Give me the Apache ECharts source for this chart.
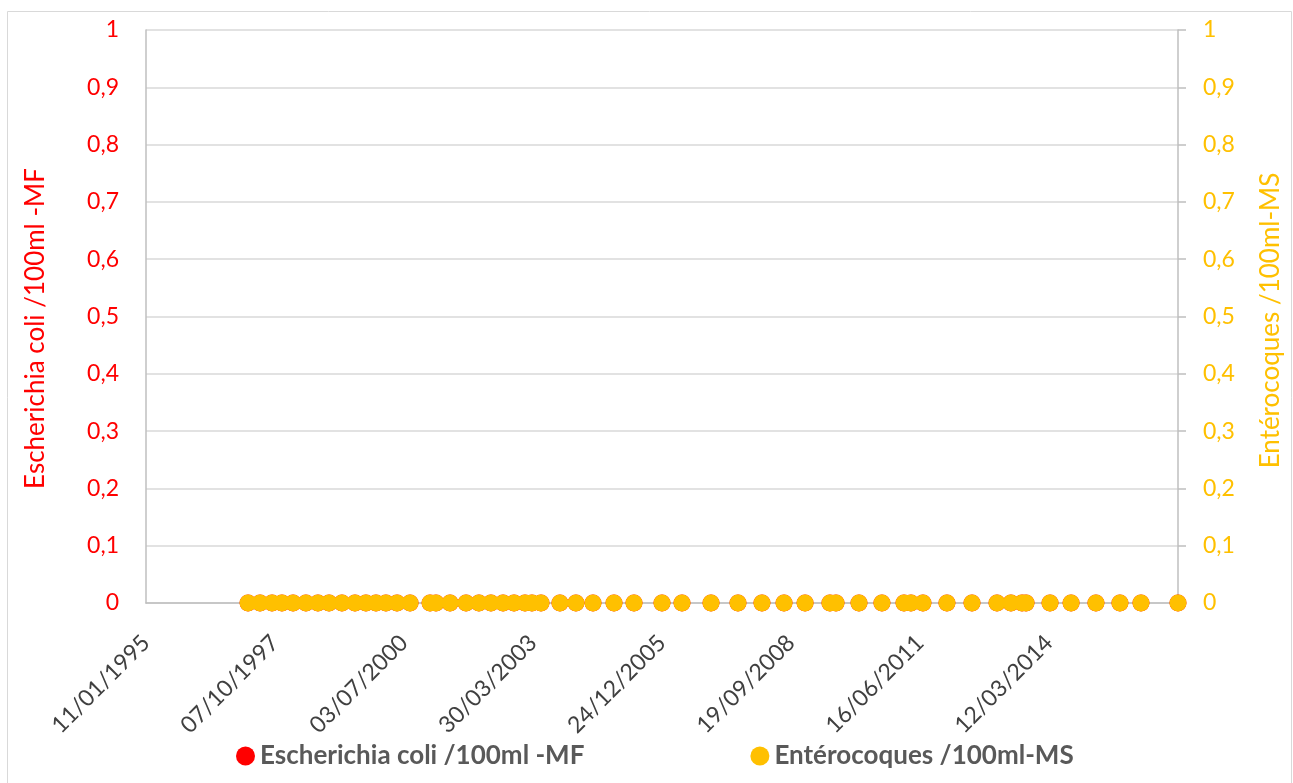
<!DOCTYPE html>
<html>
<head>
<meta charset="utf-8">
<script src="https://cdn.jsdelivr.net/npm/echarts@6/dist/echarts.min.js"></script>
<style>
  html, body { margin: 0; padding: 0; background: #ffffff; }
  #chart { width: 1293px; height: 783px; }
</style>
</head>
<body>
<div id="chart"></div>
<script>
// Sampling dates (ISO) of the bathing-water analyses
const samplingDates = [
  '1997-03-12', '1997-06-13', '1997-09-14', '1997-11-30', '1998-02-24', '1998-06-04',
  '1998-09-05', '1998-11-30', '1999-03-10', '1999-06-19', '1999-09-12', '1999-11-29',
  '2000-02-14', '2000-05-10', '2000-08-19', '2001-01-21', '2001-03-08', '2001-06-25',
  '2001-10-27', '2002-02-04', '2002-05-08', '2002-08-10', '2002-11-03', '2003-01-27',
  '2003-03-22', '2003-05-31', '2003-10-25', '2004-02-26', '2004-07-07', '2004-12-17',
  '2005-05-21', '2005-12-24', '2006-05-28', '2007-01-08', '2007-08-05', '2008-02-07',
  '2008-07-27', '2009-01-06', '2009-07-18', '2009-09-03', '2010-02-28', '2010-08-25',
  '2011-02-12', '2011-04-07', '2011-07-09', '2012-01-11', '2012-07-23', '2013-02-02',
  '2013-05-21', '2013-08-15', '2013-09-15', '2014-03-20', '2014-08-30', '2015-03-11',
  '2015-09-13', '2016-02-23', '2016-12-06'
];

// Escherichia coli counts /100ml (MF)
const ecoliValues = [
  0, 0, 0, 0, 0, 0, 0, 0, 0, 0, 0, 0, 0, 0, 0, 0, 0, 0, 0, 0,
  0, 0, 0, 0, 0, 0, 0, 0, 0, 0, 0, 0, 0, 0, 0, 0, 0, 0, 0, 0,
  0, 0, 0, 0, 0, 0, 0, 0, 0, 0, 0, 0, 0, 0, 0, 0, 0
];

// Enterococci counts /100ml (MS)
const enteroValues = [
  0, 0, 0, 0, 0, 0, 0, 0, 0, 0, 0, 0, 0, 0, 0, 0, 0, 0, 0, 0,
  0, 0, 0, 0, 0, 0, 0, 0, 0, 0, 0, 0, 0, 0, 0, 0, 0, 0, 0, 0,
  0, 0, 0, 0, 0, 0, 0, 0, 0, 0, 0, 0, 0, 0, 0, 0, 0
];

const seriesNames = ['Escherichia coli /100ml -MF', 'Entérocoques /100ml-MS'];
const axisStartDate = '1995-01-11';   // first date tick
const axisEndDate = '2016-12-06';     // end of the date axis
const tickStepDays = 1000;            // date tick spacing
const valueTicks = [0, 0.1, 0.2, 0.3, 0.4, 0.5, 0.6, 0.7, 0.8, 0.9, 1];

const DAY = 86400000;
const t0 = Date.parse(axisStartDate + 'T00:00:00Z');
const toDays = d => Math.round((Date.parse(d + 'T00:00:00Z') - t0) / DAY);
const fmtDate = days => {
  const dt = new Date(t0 + days * DAY);
  const p = n => String(n).padStart(2, '0');
  return p(dt.getUTCDate()) + '/' + p(dt.getUTCMonth() + 1) + '/' + dt.getUTCFullYear();
};
const fmtValue = v => String(Number(v.toFixed(1))).replace('.', ',');

const FONT = 'Lato, "Open Sans", sans-serif';
const RED = '#FF0000';
const GOLD = '#FFC000';

const chart = echarts.init(document.getElementById('chart'), null, { renderer: 'canvas' });

chart.setOption({
  animation: false,
  backgroundColor: '#ffffff',
  textStyle: { fontFamily: FONT },
  graphic: [{
    type: 'rect',
    shape: { x: 7.5, y: 11.5, width: 1284, height: 790 },
    style: { fill: 'none', stroke: '#D9D9D9', lineWidth: 1 },
    silent: true,
    z: -10
  }],
  grid: {
    left: 146, right: 115, top: 30, bottom: 180,
    containLabel: false,
    outerBoundsMode: 'none'
  },
  legend: {
    top: 738,
    left: 231,
    icon: 'circle',
    itemWidth: 19,
    itemHeight: 19,
    itemGap: 166,
    data: seriesNames,
    textStyle: {
      fontFamily: FONT,
      fontSize: 26,
      fontWeight: 'bold',
      color: '#595959'
    }
  },
  xAxis: {
    type: 'value',
    min: 0,
    max: toDays(axisEndDate),
    interval: tickStepDays,
    splitLine: { show: false },
    axisLine: { show: true, onZero: false, lineStyle: { color: '#BFBFBF', width: 1.5 } },
    axisTick: { show: false },
    axisLabel: {
      rotate: 45,
      margin: 36,
      showMaxLabel: false,
      fontFamily: FONT,
      fontSize: 23,
      color: '#404040',
      formatter: v => fmtDate(v)
    }
  },
  yAxis: [{
    type: 'value',
    position: 'left',
    min: valueTicks[0],
    max: valueTicks[valueTicks.length - 1],
    interval: 0.1,
    name: seriesNames[0],
    nameLocation: 'middle',
    nameRotate: 90,
    nameGap: 97,
    nameTextStyle: { fontFamily: FONT, fontSize: 26, color: RED, padding: [0, 24, 0, 0] },
    axisLine: { show: true, lineStyle: { color: '#BFBFBF', width: 1.5 } },
    axisTick: { show: false },
    splitLine: { lineStyle: { color: '#D9D9D9', width: 1.5 } },
    axisLabel: { margin: 27, fontFamily: FONT, fontSize: 23, color: RED, formatter: fmtValue }
  }, {
    type: 'value',
    position: 'right',
    min: valueTicks[0],
    max: valueTicks[valueTicks.length - 1],
    interval: 0.1,
    name: seriesNames[1],
    nameLocation: 'middle',
    nameRotate: 90,
    nameGap: 80,
    nameTextStyle: { fontFamily: FONT, fontSize: 26, color: GOLD, padding: [0, 8, 0, 0] },
    axisLine: { show: true, lineStyle: { color: '#BFBFBF', width: 1.5 } },
    axisTick: { show: true, inside: false, length: 8, lineStyle: { color: '#BFBFBF', width: 1.5 } },
    splitLine: { show: false },
    axisLabel: { margin: 25, fontFamily: FONT, fontSize: 23, color: GOLD, formatter: fmtValue }
  }],
  series: [{
    name: seriesNames[0],
    type: 'scatter',
    yAxisIndex: 0,
    symbol: 'circle',
    symbolSize: 17,
    itemStyle: { color: RED, opacity: 1 },
    z: 2,
    data: samplingDates.map((d, i) => [toDays(d), ecoliValues[i]])
  }, {
    name: seriesNames[1],
    type: 'scatter',
    yAxisIndex: 1,
    symbol: 'circle',
    symbolSize: 17,
    itemStyle: { color: GOLD, opacity: 1 },
    z: 3,
    data: samplingDates.map((d, i) => [toDays(d), enteroValues[i]])
  }]
});
</script>
</body>
</html>
